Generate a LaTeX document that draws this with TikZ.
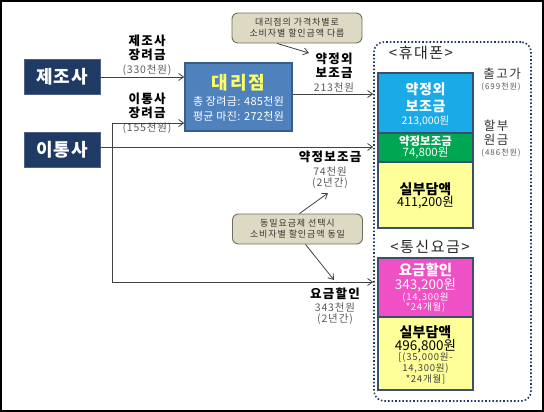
\documentclass[tikz,border=0pt]{standalone}
\usepackage{fontspec}
\setmainfont{Noto Sans CJK KR}
\usetikzlibrary{arrows.meta}
\newcommand{\lsp}[1]{\addfontfeatures{LetterSpace=#1}}
\definecolor{navy}{HTML}{1F3A64}
\definecolor{dealer}{HTML}{4F81BD}
\definecolor{dealerline}{HTML}{385D8A}
\definecolor{ylw}{HTML}{FFFF66}
\definecolor{cyanbox}{HTML}{1AAAE8}
\definecolor{greenbox}{HTML}{00A651}
\definecolor{lightyel}{HTML}{FFFF99}
\definecolor{pinkbox}{HTML}{F050C6}
\definecolor{callfill}{HTML}{DDD9C3}
\definecolor{callline}{HTML}{6F6F60}
\definecolor{graytext}{HTML}{595959}
\definecolor{boxline}{HTML}{3A4F6A}
\tikzset{
  arr/.style={draw=black!75, line width=0.8, -{Straight Barb[length=5pt,width=7pt]}},
  navybox/.style={fill=navy, draw=navy!80, minimum width=76, minimum height=35, text=white, font=\fontsize{18}{18}\selectfont\bfseries\lsp{6}},
  stackbox/.style={draw=boxline, line width=1.6, minimum width=95},
  callout/.style={rounded corners=6, fill=callfill, draw=callline, line width=0.9, minimum width=130, minimum height=30, align=center, font=\fontsize{9}{11}\selectfont\lsp{10}, text=black!80},
  lbl/.style={font=\fontsize{12.5}{12.5}\selectfont\bfseries\lsp{10}, text=black, inner sep=0},
  sub/.style={font=\fontsize{10.5}{10.5}\selectfont\lsp{8}, text=graytext, inner sep=0},
  tiny/.style={font=\fontsize{8}{8}\selectfont\lsp{12}, text=graytext, inner sep=0},
  rlbl/.style={font=\fontsize{12.5}{12.5}\selectfont\lsp{12}, text=black!80, inner sep=0},
  intext/.style={inner sep=0}
}
\begin{document}
\begin{tikzpicture}[x=1pt,y=-1pt]
\useasboundingbox (0,0) rectangle (544,412);
\draw[line width=2] (1,1) rectangle (543,411);

% left boxes
\node[navybox] (jejo) at (62,77) {제조사};
\node[navybox] (itong) at (62,149.5) {이통사};

% dealer
\node[fill=dealer, draw=dealerline, line width=1.5, minimum width=107, minimum height=68] (dae) at (238.5,97) {};
\node[intext, text=ylw, font=\fontsize{18}{18}\selectfont\bfseries\lsp{10}] (daet) at (238.5,83) {대리점};
\node[intext, text=white, font=\fontsize{11}{11}\selectfont\lsp{3}] (daet2) at (238.5,101) {총 장려금: 485천원};
\node[intext, text=white, font=\fontsize{11}{11}\selectfont\lsp{3}] (daet3) at (238.5,116) {평균 마진: 272천원};

% dotted phone frame
\node[draw=navy, dotted, line width=1.6, rounded corners=10, minimum width=157, minimum height=359] (phone) at (452.5,221.5) {};
\node[intext, font=\fontsize{15}{15}\selectfont\lsp{10}, text=black!85] (phl) at (421,53) {<휴대폰>};
\node[intext, font=\fontsize{15}{15}\selectfont\lsp{10}, text=black!85] (tel) at (430,247) {<통신요금>};

% stack boxes
\node[stackbox, fill=cyanbox, minimum height=60] (b1) at (425.5,103) {};
\node[intext, text=white, font=\fontsize{14}{14}\selectfont\bfseries\lsp{4}] (b1a) at (425.5,89) {약정외};
\node[intext, text=white, font=\fontsize{14}{14}\selectfont\bfseries\lsp{4}] (b1b) at (425.5,106) {보조금};
\node[intext, text=white, font=\fontsize{10.5}{10.5}\selectfont] (b1c) at (425.5,121) {213,000원};

\node[stackbox, fill=greenbox, minimum height=29] (b2) at (425.5,147.5) {};
\node[intext, text=white, font=\fontsize{11.5}{11.5}\selectfont\bfseries] (b2a) at (425.5,141) {약정보조금};
\node[intext, text=white, font=\fontsize{11.5}{11.5}\selectfont] (b2b) at (425.5,153) {74,800원};

\node[stackbox, fill=lightyel, minimum height=66] (b3) at (425.5,195) {};
\node[intext, font=\fontsize{14}{14}\selectfont\bfseries] (b3a) at (425.5,189) {실부담액};
\node[intext, font=\fontsize{12.5}{12.5}\selectfont] (b3b) at (425.5,203) {411,200원};

\node[stackbox, fill=pinkbox, minimum height=59] (b4) at (425.5,287.5) {};
\node[intext, text=white, font=\fontsize{14.5}{14.5}\selectfont\bfseries] (b4a) at (425.5,270) {요금할인};
\node[intext, text=white, font=\fontsize{13.5}{13.5}\selectfont] (b4b) at (425.5,285) {343,200원};
\node[intext, text=white, font=\fontsize{9.5}{9.5}\selectfont\lsp{8}] (b4c) at (425.5,297.5) {(14,300원};
\node[intext, text=white, font=\fontsize{9.5}{9.5}\selectfont\lsp{8}] (b4d) at (425.5,307.5) {*24개월)};

\node[stackbox, fill=lightyel, minimum height=73] (b5) at (425.5,353.5) {};
\node[intext, font=\fontsize{14}{14}\selectfont\bfseries] (b5a) at (425.5,332) {실부담액};
\node[intext, font=\fontsize{13.5}{13.5}\selectfont] (b5b) at (425.5,346) {496,800원};
\node[intext, font=\fontsize{9.5}{9.5}\selectfont\lsp{8}, text=black!75] (b5c) at (425.5,357.5) {[(35,000원-};
\node[intext, font=\fontsize{9.5}{9.5}\selectfont\lsp{8}, text=black!75] (b5d) at (425.5,368.5) {14,300원)};
\node[intext, font=\fontsize{9.5}{9.5}\selectfont\lsp{8}, text=black!75] (b5e) at (425.5,379.5) {*24개월]};

% right labels
\node[rlbl] (out1) at (502,74) {출고가};
\node[tiny] (out2) at (501,87) {(699천원)};
\node[rlbl] (hal1) at (496,126) {할부};
\node[rlbl] (hal2) at (496,140) {원금};
\node[tiny] (hal3) at (501,153) {(486천원)};

% connector labels
\node[lbl] (l1a) at (147,41) {제조사};
\node[lbl] (l1b) at (147,55) {장려금};
\node[sub] (l1c) at (147,70) {(330천원)};
\node[lbl] (l2a) at (147,99) {이통사};
\node[lbl] (l2b) at (147,113) {장려금};
\node[sub] (l2c) at (147,128) {(155천원)};
\node[lbl] (l3a) at (334,59) {약정외};
\node[lbl] (l3b) at (334,73) {보조금};
\node[sub] (l3c) at (334,87) {213천원};
\node[lbl] (l4a) at (330,157) {약정보조금};
\node[sub] (l4b) at (330,171) {74천원};
\node[sub] (l4c) at (330,183) {(2년간)};
\node[lbl] (l5a) at (335,294) {요금할인};
\node[sub] (l5b) at (335,307) {343천원};
\node[sub] (l5c) at (335,319) {(2년간)};

% callouts
\node[callout] (c1) at (297,28) {대리점의 가격차별로\\소비자별 할인금액 다름};
\node[callout] (c2) at (297.5,229) {동일요금제 선택시\\소비자별 할인금액 동일};
\coordinate (c1end) at (309,53);
\coordinate (c2up) at (328,193);
\coordinate (c2dn) at (334,280);
\draw[arr] ([xshift=-20]c1.south) -- (c1end);
\draw[arr] ([xshift=2]c2.north) -- (c2up);
\draw[arr] ([xshift=8]c2.south) -- (c2dn);

% connectors
\coordinate (vtop) at (112,123);
\coordinate (vbot) at (112,282);
\draw[arr] (jejo.east) -- (jejo.east -| dae.west);
\draw[arr] (itong.east |- 0,147) -- (phone.west |- 0,147);
\draw[arr] (vbot) -- (vtop) -- (vtop -| dae.west);
\draw[arr] (vbot) -- (vbot -| phone.west);
\draw[arr] (dae.east |- 0,94) -- (phone.west |- 0,94);
\end{tikzpicture}
\end{document}
